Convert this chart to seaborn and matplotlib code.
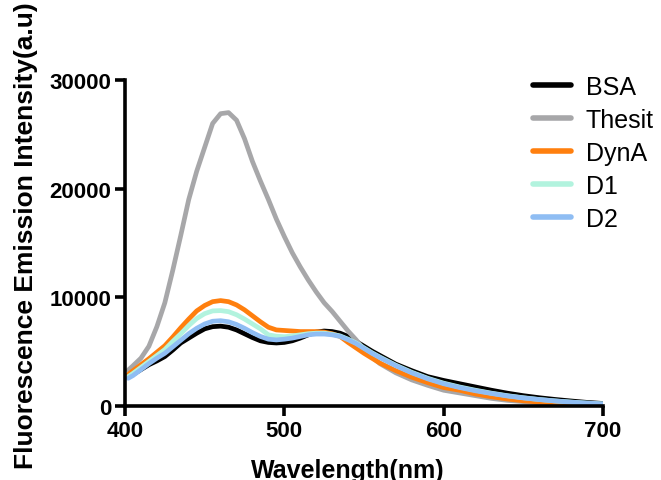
import numpy as np
import pandas as pd
import matplotlib
matplotlib.use("Agg")
import matplotlib.pyplot as plt
import seaborn as sns

wavelength = [402, 405, 410, 415, 420, 425, 430, 435, 440, 445, 450, 455, 460, 465, 470,
              475, 480, 485, 490, 495, 500, 505, 510, 515, 520, 525, 530, 535, 540, 545,
              550, 555, 560, 570, 580, 590, 600, 610, 620, 630, 640, 650, 660, 670, 680,
              690, 700]

bsa = [2650, 2900, 3350, 3800, 4150, 4550, 5150, 5800, 6250, 6700, 7100, 7300, 7350, 7250, 7000,
       6650, 6300, 6000, 5850, 5800, 5850, 6000, 6250, 6550, 6800, 6900, 6850, 6700, 6400, 5950,
       5500, 5050, 4650, 3850, 3250, 2700, 2350, 2050, 1750, 1450, 1180, 950, 760, 600, 460,
       330, 230]

thesit = [3300, 3700, 4400, 5500, 7300, 9500, 12500, 15700, 19000, 21600, 23800, 26000, 26900, 27000, 26300,
          24600, 22500, 20700, 19000, 17200, 15600, 14100, 12800, 11600, 10500, 9500, 8700, 7800, 6900, 6100,
          5200, 4500, 3900, 3050, 2400, 1900, 1450, 1200, 950, 700, 520, 400, 300, 230, 170,
          130, 100]

dyna = [2900, 3250, 3800, 4350, 4950, 5550, 6350, 7200, 8000, 8750, 9250, 9600, 9700, 9600, 9300,
        8850, 8300, 7750, 7250, 7000, 6950, 6900, 6850, 6850, 6850, 6800, 6650, 6400, 5850, 5350,
        4850, 4400, 3950, 3250, 2650, 2150, 1700, 1450, 1100, 850, 640, 480, 360, 270, 200,
        150, 110]

d1 = [2700, 3000, 3550, 4100, 4650, 5200, 5950, 6650, 7400, 8050, 8500, 8750, 8780, 8680, 8400,
      8000, 7550, 7100, 6550, 6420, 6380, 6450, 6550, 6650, 6700, 6700, 6600, 6450, 6150, 5800,
      5350, 4900, 4500, 3750, 3100, 2550, 2100, 1750, 1450, 1180, 950, 760, 600, 470, 360,
      270, 200]

d2 = [2550, 2800, 3350, 3900, 4400, 4850, 5450, 6050, 6650, 7150, 7550, 7800, 7850, 7750, 7500,
      7150, 6750, 6400, 6150, 6080, 6150, 6250, 6400, 6550, 6620, 6620, 6550, 6400, 6100, 5750,
      5300, 4850, 4450, 3700, 3050, 2500, 2050, 1700, 1400, 1150, 920, 740, 590, 460, 350,
      260, 190]

series_names = ["BSA", "Thesit", "DynA", "D1", "D2"]
series_values = [bsa, thesit, dyna, d1, d2]
colors = ["#000000", "#A7A7A9", "#FF7F0E", "#B2F3DE", "#8FBDF3"]

x_ticks = [400, 500, 600, 700]
y_ticks = [0, 10000, 20000, 30000]

frames = []
for name, vals in zip(series_names, series_values):
    frames.append(pd.DataFrame({"Wavelength": wavelength, "Intensity": vals, "Sample": name}))
df = pd.concat(frames, ignore_index=True)

sns.set_theme(style="ticks")
plt.rcParams["font.family"] = ["Liberation Sans", "DejaVu Sans"]
plt.rcParams["text.color"] = "black"
plt.rcParams["axes.labelcolor"] = "black"
plt.rcParams["xtick.color"] = "black"
plt.rcParams["ytick.color"] = "black"

fig = plt.figure(figsize=(6.61, 4.81), dpi=100)
ax = fig.add_axes([125 / 661, 1 - 407 / 481, (603 - 125) / 661, (407 - 81) / 481])

sns.lineplot(data=df, x="Wavelength", y="Intensity", hue="Sample", hue_order=series_names,
             palette=dict(zip(series_names, colors)), linewidth=3.4, ax=ax, legend=True,
             estimator=None, sort=False)

ax.set_xlim(400, 700)
ax.set_ylim(0, 30000)
ax.set_xticks(x_ticks)
ax.set_yticks(y_ticks)
ax.set_xticklabels([str(v) for v in x_ticks], fontsize=16, fontweight="bold", color="black")
ax.set_yticklabels([str(v) for v in y_ticks], fontsize=16, fontweight="bold", color="black")
for s in ["top", "right"]:
    ax.spines[s].set_visible(False)
for s in ["left", "bottom"]:
    ax.spines[s].set_linewidth(2.6)
    ax.spines[s].set_color("black")
ax.tick_params(axis="both", direction="out", length=7, width=2.6, colors="black", pad=3)

ax.set_xlabel("Wavelength(nm)", fontsize=18, fontweight="bold", color="black")
ax.set_ylabel("Fluorescence Emission Intensity(a.u)", fontsize=19, fontweight="bold", color="black")
ax.xaxis.set_label_coords((348 - 125) / 478, -(459 - 407) / 326)
ax.yaxis.set_label_coords(-(125 - 38) / 478, (407 - 236) / 326)

handles, labels = ax.get_legend_handles_labels()
for h in handles:
    h.set_linewidth(4.0)
leg = ax.legend(handles, labels, loc="upper left", bbox_to_anchor=(533 / 661, 1 - 76 / 481),
                bbox_transform=fig.transFigure, frameon=False, fontsize=18,
                handlelength=1.5, handletextpad=0.6, labelspacing=0.36, borderpad=0,
                borderaxespad=0)
for t in leg.get_texts():
    t.set_color("black")

fig.savefig("out.png", dpi=100)
